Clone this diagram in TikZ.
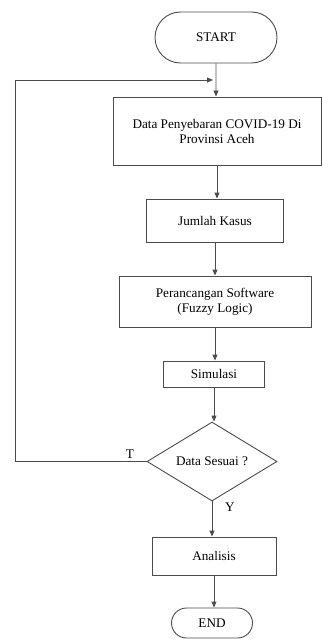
\documentclass[tikz,border=0pt]{standalone}
\usepackage{fontspec}
\setmainfont{Liberation Serif}
\usetikzlibrary{arrows.meta,shapes.geometric,shapes.misc}
\begin{document}
\begin{tikzpicture}[x=1pt,y=1pt,
  line width=0.9pt,
  box/.style={draw=black!70, rectangle, align=center, inner sep=1pt, font=\fontsize{13.2}{15}\selectfont},
  term/.style={draw=black!70, rounded rectangle, align=center, inner sep=1pt, font=\fontsize{13.2}{15}\selectfont},
  dec/.style={draw=black!70, diamond, align=center, inner sep=1pt, font=\fontsize{13.2}{15}\selectfont},
  arr/.style={draw=black!70, -{Triangle[length=6pt,width=5pt]}},
  lbl/.style={font=\fontsize{13.2}{15}\selectfont, inner sep=1pt}
]
\useasboundingbox (0,0) rectangle (322,-639);
\node[term, minimum width=124, minimum height=51] (start) at (216,-37.5) {START};
\node[box, minimum width=208, minimum height=68] (data) at (217,-131) {Data Penyebaran COVID-19 Di\\Provinsi Aceh};
\node[box, minimum width=137, minimum height=43] (jml) at (215,-220.5) {Jumlah Kasus};
\node[box, minimum width=192, minimum height=51] (pr) at (215,-301.5) {Perancangan Software\\(Fuzzy Logic)};
\node[box, minimum width=101, minimum height=26] (sim) at (214,-374) {Simulasi};
\node[dec, minimum width=130, minimum height=79, aspect=1.65] (dc) at (212,-461.5) {Data Sesuai ?};
\node[box, minimum width=124, minimum height=38] (an) at (214,-556) {Analisis};
\node[term, minimum width=83, minimum height=30] (end) at (212,-623) {END};
\draw[arr] (start) -- (start |- data.north);
\draw[arr] (data) -- (data |- jml.north);
\draw[arr] (jml) -- (jml |- pr.north);
\draw[arr] (pr) -- (pr |- sim.north);
\draw[arr] (sim) -- (sim |- dc.north);
\draw[arr] (dc) -- (dc |- an.north);
\draw[arr] (an) -- (an |- end.north);
\coordinate (lc) at (15,-80);
\coordinate (lt) at (213,-80);
\draw[arr] (dc.west) -| (lc) -- (lt);
\node[lbl] (t) at (130,-454) {T};
\node[lbl] (y) at (230,-507) {Y};
\end{tikzpicture}
\end{document}
